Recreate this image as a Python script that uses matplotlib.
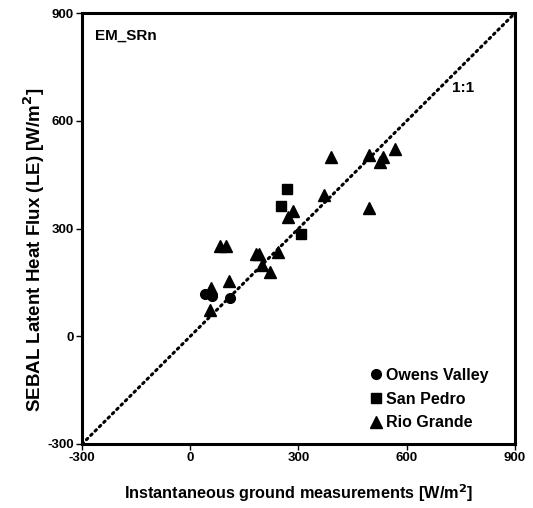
import matplotlib
matplotlib.use("Agg")
import matplotlib.pyplot as plt

plt.rcParams['font.family'] = ['Liberation Sans', 'DejaVu Sans']
plt.rcParams['font.weight'] = 'bold'
plt.rcParams['axes.unicode_minus'] = False

# measured vs SEBAL latent heat flux, W/m2
owens_x = [42, 60, 111]
owens_y = [117, 111, 108]

sanpedro_x = [269, 252, 306]
sanpedro_y = [409, 362, 284]

rio_x = [83, 100, 106, 57, 54, 181, 190, 199, 220, 244, 285, 270, 370,
         389, 495, 535, 526, 567, 495]
rio_y = [251, 251, 153, 134, 72, 230, 230, 198, 179, 235, 349, 332, 393,
         499, 504, 499, 486, 523, 358]

ticks = [-300, 0, 300, 600, 900]

fig = plt.figure(figsize=(5.33, 5.08), dpi=100)
ax = fig.add_axes([0.154, 0.126, 0.812, 0.848])

ax.plot([-300, 900], [-300, 900], color='black', linestyle=(0, (0.6, 1.4)),
        lw=2.2, dash_capstyle='round', zorder=1)

ax.plot(owens_x, owens_y, 'o', color='black', ms=7, label='Owens Valley', zorder=3)
ax.plot(sanpedro_x, sanpedro_y, 's', color='black', ms=7.5, label='San Pedro', zorder=3)
ax.plot(rio_x, rio_y, '^', color='black', ms=9, label='Rio Grande', zorder=3)

ax.set_xlim(-300, 900)
ax.set_ylim(-300, 900)
ax.set_xticks(ticks)
ax.set_yticks(ticks)
ax.tick_params(direction='out', length=4, width=1, labelsize=9.5, pad=2)
for label in ax.get_xticklabels() + ax.get_yticklabels():
    label.set_fontweight('bold')
for s in ax.spines.values():
    s.set_linewidth(2.2)

ax.set_xlabel('Instantaneous ground measurements [W/m$^\\mathbf{2}$]',
              fontsize=11.7, fontweight='bold')
ax.set_ylabel('SEBAL Latent Heat Flux (LE) [W/m$^\\mathbf{2}$]',
              fontsize=13.5, fontweight='bold')
ax.xaxis.set_label_coords(0.5, -0.09)
ax.yaxis.set_label_coords(-0.08, 0.45)

ax.text(0.03, 0.965, 'EM_SRn', transform=ax.transAxes, fontsize=11,
        va='top', ha='left', fontweight='bold')
ax.text(755, 691, '1:1', fontsize=11, ha='center', va='center')

ax.legend(loc='lower right', frameon=False, fontsize=11.5, handletextpad=0.1,
          handlelength=1.0, borderaxespad=0.45, labelspacing=0.55,
          bbox_to_anchor=(0.97, 0.0))

fig.savefig('out.png', dpi=100)
